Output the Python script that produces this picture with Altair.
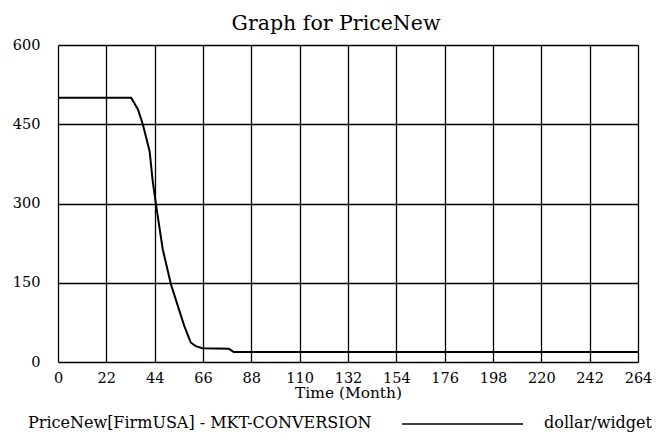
import altair as alt
import pandas as pd

time = [0, 33.3, 36.4, 38.6, 41.7, 43.1, 44.6, 47.7, 51.4, 54.1, 57.5, 60.4, 62.7, 65.7, 77.8, 80.0, 264]
price = [500, 500, 478, 450, 399, 343, 298, 213, 147, 112, 68, 37, 30, 26, 25, 19, 19]
series_name = "PriceNew[FirmUSA] - MKT-CONVERSION"
unit = "dollar/widget"
x_ticks = list(range(0, 265, 22))
y_ticks = [0, 150, 300, 450, 600]

df = pd.DataFrame({"t": time, "v": price})

FONT = "DejaVu Serif"
TICK = 14.5
LEG = 16

line = alt.Chart(df).mark_line(color="black", strokeWidth=2).encode(
    x=alt.X("t:Q", scale=alt.Scale(domain=[0, 264], nice=False, zero=False),
            axis=alt.Axis(values=x_ticks, title="Time (Month)", grid=True,
                          gridColor="black", gridOpacity=1, gridWidth=1.3,
                          domain=False, ticks=False, labelFont=FONT, labelFontSize=TICK,
                          labelColor="black", labelPadding=9, titleFont=FONT,
                          titleFontSize=15.4, titleFontWeight="normal", titleColor="black",
                          titlePadding=1, labelFlush=False)),
    y=alt.Y("v:Q", scale=alt.Scale(domain=[0, 600], nice=False),
            axis=alt.Axis(values=y_ticks, title=None, grid=True,
                          gridColor="black", gridOpacity=1, gridWidth=1.3,
                          domain=False, ticks=False, labelFont=FONT, labelFontSize=TICK,
                          labelColor="black", labelPadding=18)),
)

legend_df = pd.DataFrame({"name": [series_name], "unit": [unit]})
legend_name = alt.Chart(legend_df).mark_text(
    font=FONT, fontSize=LEG, color="black", align="left", baseline="middle"
).encode(text="name:N", x=alt.value(-30), y=alt.value(378))
legend_line = alt.Chart(legend_df).mark_rule(color="black", strokeWidth=1.5).encode(
    x=alt.value(344), x2=alt.value(465), y=alt.value(379))
legend_unit = alt.Chart(legend_df).mark_text(
    font=FONT, fontSize=LEG, color="black", align="left", baseline="middle"
).encode(text="unit:N", x=alt.value(486), y=alt.value(378))

chart = alt.layer(line, legend_name, legend_line, legend_unit).properties(
    width=580, height=317,
    padding={"left": 50, "top": 37, "right": 14, "bottom": 74},
    autosize=alt.AutoSizeParams(type="none"),
    title=alt.TitleParams("Graph for PriceNew", font=FONT, fontSize=20.5,
                          fontWeight="normal", color="black", anchor="middle",
                          dx=-12, offset=3),
).configure_view(stroke="black", strokeWidth=3.5).configure(background="white")

chart.save("out.html", embed_options={"renderer": "svg", "actions": False})
